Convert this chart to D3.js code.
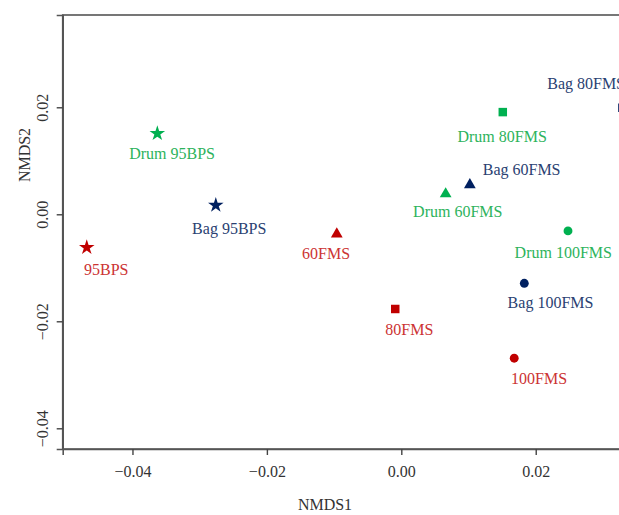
<!DOCTYPE html>
<html>
<head>
<meta charset="utf-8">
<script src="https://cdn.jsdelivr.net/npm/d3@7"></script>
<style>
  html, body { margin: 0; padding: 0; background: #fff; }
  svg { display: block; }
  text { font-family: "Liberation Serif", "DejaVu Serif", serif; }
</style>
</head>
<body>
<script>
// ---- data ----
const names   = ["Drum 95BPS", "Bag 95BPS", "95BPS", "60FMS", "80FMS", "100FMS",
                 "Drum 60FMS", "Bag 60FMS", "Drum 80FMS", "Bag 80FMS", "Drum 100FMS", "Bag 100FMS"];
const groups  = ["Drum", "Bag", "Fresh", "Fresh", "Fresh", "Fresh",
                 "Drum", "Bag", "Drum", "Bag", "Drum", "Bag"];
const kinds   = ["95BPS", "95BPS", "95BPS", "60FMS", "80FMS", "100FMS",
                 "60FMS", "60FMS", "80FMS", "80FMS", "100FMS", "100FMS"];
const nmds1   = [-0.0363, -0.0276, -0.0468, -0.0096, -0.0009, 0.0168,
                  0.0066, 0.0102, 0.0151, 0.0329, 0.0248, 0.0183];
const nmds2   = [0.0151, 0.0017, -0.0062, -0.0037, -0.0177, -0.0269,
                 0.0038, 0.0055, 0.0191, 0.0199, -0.0031, -0.0129];
const labelX  = [-0.0341, -0.0256, -0.0439, -0.0112, 0.0012, 0.0205,
                  0.0084, 0.0179, 0.0150, 0.0275, 0.0241, 0.0222];
const labelY  = [0.0114, -0.0026, -0.0103, -0.0073, -0.0216, -0.0307,
                 0.0005, 0.0083, 0.0145, 0.0245, -0.0071, -0.0165];
const xTicks  = [-0.04, -0.02, 0.00, 0.02];
const yTicks  = [0.02, 0.00, -0.02, -0.04];
const xTitle  = "NMDS1";
const yTitle  = "NMDS2";

// ---- styles ----
const markColor  = { Drum: "#00B050", Bag: "#002060", Fresh: "#C00000" };
const textColor  = { Drum: "#2DB35C", Bag: "#2A3F72", Fresh: "#CC3333" };
const shapeOf    = { "95BPS": d3.symbolStar, "60FMS": d3.symbolTriangle,
                     "80FMS": d3.symbolSquare, "100FMS": d3.symbolCircle };
const sizeOf     = { "95BPS": 75, "60FMS": 60, "80FMS": 72, "100FMS": 62 };

const W = 619, H = 515;
const svg = d3.select("body").append("svg").attr("width", W).attr("height", H);

const x = d3.scaleLinear().domain([-0.05038, 0.0355]).range([62.7, 639.9]);
const y = d3.scaleLinear().domain([-0.04387, 0.03725]).range([449, 15]);

const fmt = v => d3.format(".2f")(v);

// frame (top and right edges; the right edge is outside the window)
svg.append("rect")
  .attr("x", x.range()[0]).attr("y", y.range()[1])
  .attr("width", x.range()[1] - x.range()[0])
  .attr("height", y.range()[0] - y.range()[1])
  .attr("fill", "none").attr("stroke", "#555").attr("stroke-width", 1.6);

// x axis
const gx = svg.append("g").attr("transform", `translate(0,${y.range()[0]})`)
  .call(d3.axisBottom(x).tickValues(xTicks).tickFormat(fmt).tickSize(6).tickPadding(11));
gx.select(".domain").attr("stroke", "#555").attr("stroke-width", 1.6);
gx.selectAll(".tick line").attr("stroke", "#444").attr("stroke-width", 1.4);
gx.selectAll(".tick text").attr("font-size", 16).attr("fill", "#333")
  .attr("font-family", "Liberation Serif, serif");

// y axis
const gy = svg.append("g").attr("transform", `translate(${x.range()[0]},0)`)
  .call(d3.axisLeft(y).tickValues(yTicks).tickFormat(fmt).tickSize(6).tickPadding(8));
gy.select(".domain").attr("stroke", "#555").attr("stroke-width", 1.6);
gy.selectAll(".tick line").attr("stroke", "#444").attr("stroke-width", 1.4);
gy.selectAll(".tick text").attr("font-size", 16).attr("fill", "#333")
  .attr("font-family", "Liberation Serif, serif")
  .attr("transform", "rotate(-90)")
  .attr("x", 0).attr("y", -20).attr("dy", "0.35em")
  .attr("text-anchor", "middle");

// axis titles
svg.append("text").attr("x", 325).attr("y", 510).attr("text-anchor", "middle")
  .attr("font-size", 16).attr("fill", "#333").text(xTitle);
svg.append("text").attr("transform", "translate(24,155) rotate(-90)")
  .attr("text-anchor", "middle").attr("dy", "0.35em")
  .attr("font-size", 16).attr("fill", "#333").text(yTitle);

// points
const idx = d3.range(names.length);
svg.append("g").selectAll("path").data(idx).join("path")
  .attr("transform", i => `translate(${x(nmds1[i])},${y(nmds2[i])})`)
  .attr("d", i => d3.symbol().type(shapeOf[kinds[i]]).size(sizeOf[kinds[i]])())
  .attr("fill", i => markColor[groups[i]]);

// labels
svg.append("g").selectAll("text").data(idx).join("text")
  .attr("x", i => x(labelX[i])).attr("y", i => y(labelY[i]))
  .attr("dy", "0.35em").attr("text-anchor", "middle")
  .attr("font-size", 16).attr("fill", i => textColor[groups[i]])
  .text(i => names[i]);
</script>
</body>
</html>
